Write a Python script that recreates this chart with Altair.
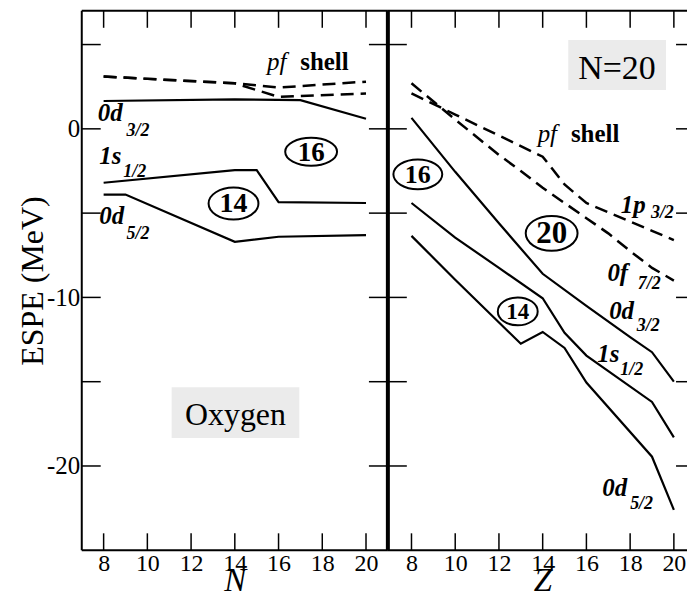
import altair as alt
import pandas as pd

SERIF = "Liberation Serif, Times New Roman, Times, serif"

# ---------------- Oxygen chain: ESPE (MeV) against neutron number N ----------------
N_0d32 = [8, 14, 17, 20]
E_O_0d32 = [1.65, 1.75, 1.7, 0.6]
N_1s12 = [8, 14, 15, 16, 20]
E_O_1s12 = [-3.2, -2.45, -2.45, -4.35, -4.4]
N_0d52 = [8, 9, 14, 16, 20]
E_O_0d52 = [-3.9, -3.9, -6.7, -6.4, -6.3]
N_pf = [8, 14, 16, 20]
E_O_1p32 = [3.1, 2.7, 2.45, 2.8]
E_O_0f72 = [3.1, 2.7, 1.9, 2.1]

# ---------------- N=20 isotones: ESPE (MeV) against proton number Z ----------------
Z_0d32 = [8, 10, 12, 14, 16, 18, 19, 20]
E_I_0d32 = [0.65, -2.55, -5.6, -8.6, -10.5, -12.35, -13.25, -15.0]
Z_1s12 = [8, 10, 12, 14, 15, 16, 19, 20]
E_I_1s12 = [-4.4, -6.45, -8.25, -10.05, -12.1, -13.45, -16.2, -18.3]
Z_0d52 = [8, 10, 13, 14, 15, 16, 19, 20]
E_I_0d52 = [-6.35, -8.95, -12.75, -12.05, -13.0, -15.05, -19.45, -22.6]
Z_1p32 = [8, 10, 12, 14, 15, 16, 17, 18, 19, 20]
E_I_1p32 = [2.1, 0.85, -0.4, -1.65, -3.3, -4.4, -4.95, -5.5, -6.05, -6.6]
Z_0f72 = [8, 10, 12, 13, 14, 15, 16, 17, 18, 19, 20]
E_I_0f72 = [2.7, 0.55, -1.55, -2.5, -3.5, -4.4, -5.3, -6.2, -7.25, -8.25, -9.0]

# axis ticks
X_TICKS = [8, 10, 12, 14, 16, 18, 20]
Y_TICKS = [-20, -15, -10, -5, 0, 5]
Y_LABELS = [-20, -10, 0]

# shell-gap numbers (ring text, x, energy)
RING_TEXT_O = ["16", "14"]
RING_X_O = [17.49, 13.94]
RING_E_O = [-1.36, -4.43]
RING_TEXT_I = ["16", "20", "14"]
RING_X_I = [8.29, 14.41, 12.86]
RING_E_I = [-2.70, -6.2, -10.83]
# ring outline width, height (px) and number font size
RING_STYLE_O = [(52, 28, 27), (50, 32, 28)]
RING_STYLE_I = [(49, 30, 26), (52, 35, 31), (40, 28, 23)]

# orbital names: main part and subscript, anchored in data coordinates
TAG_O = ["0d", "1s", "0d"]
TAG_O_X = [7.73, 7.8, 7.8]
TAG_O_E = [0.46, -2.07, -5.66]
SUB_O = ["3/2", "1/2", "5/2"]
SUB_O_X = [9.05, 8.9, 9.05]
SUB_O_E = [-0.40, -2.86, -6.55]

TAG_I = ["1p", "0f", "0d", "1s", "0d"]
TAG_I_X = [17.57, 16.96, 17.04, 16.5, 16.73]
TAG_I_E = [-4.97, -9.01, -11.28, -13.85, -21.78]
SUB_I = ["3/2", "7/2", "3/2", "1/2", "5/2"]
SUB_I_X = [18.95, 18.35, 18.3, 17.55, 18.0]
SUB_I_E = [-5.27, -9.51, -11.97, -14.6, -22.53]

PF_O = (15.47, 16.99, 3.51)
PF_I = (13.77, 15.29, -0.79)

# name boxes: (text, x-from, x-to, E-top, E-bottom, text x, text baseline E, font size)
BOX_O = ("Oxygen", 11.11, 16.95, -15.33, -18.34, 14.03, -17.59, 32)
BOX_I = ("N=20", 15.17, 19.64, 5.27, 2.31, 17.4, 2.96, 34)

# layout: both panels share the same pixels per unit on x
W_L, W_R, H = 307, 300, 541
PX_PER_UNIT = W_L / 14
Y_DOM = [-25, 7]
X_DOM_L = [7, 21]
X_DOM_R = [6.92, 6.92 + W_R / PX_PER_UNIT]


def series_frame(xname, series):
    rows = []
    for name, xs, es in series:
        for a, b in zip(xs, es):
            rows.append({xname: a, "E": b, "level": name})
    return pd.DataFrame(rows)


def ring_frame(xname, texts, xs, es, styles):
    rows = []
    for t, a, b, (w, h, fs) in zip(texts, xs, es, styles):
        r = h / w
        path = f"M-1,0A1,{r:.3f},0,1,1,1,0A1,{r:.3f},0,1,1,-1,0Z"
        rows.append({xname: a, "E": b, "t": t, "path": path, "sz": w * w, "fs": fs})
    return pd.DataFrame(rows)


def panel(xname, xdom, width, solid, dashed, rings, tags, subs, pf, box,
          title, title_x, rtick, left_axis, left_frame_w, right_frame):
    xs = alt.Scale(domain=xdom, nice=False, zero=False)
    ys = alt.Scale(domain=Y_DOM, nice=False, zero=False)
    xkw = dict(values=X_TICKS, grid=False, domain=False, ticks=False,
               labelFont=SERIF, labelFontSize=24, labelColor="black",
               labelPadding=1, labelFlush=False,
               title=title, titleFont=SERIF, titleFontSize=33,
               titleFontStyle="italic", titleFontWeight="normal",
               titleColor="black", titleBaseline="alphabetic", titleY=40)
    if title_x is not None:
        xkw["titleX"] = title_x
    xaxis = alt.Axis(**xkw)
    if left_axis:
        yaxis = alt.Axis(values=Y_LABELS, grid=False, domain=False, ticks=False,
                         labelExpr="'' + datum.value",
                         labelFont=SERIF, labelFontSize=25, labelColor="black",
                         labelPadding=2,
                         title="ESPE (MeV)", titleFont=SERIF, titleFontSize=32,
                         titleFontWeight="normal", titleColor="black",
                         titleBaseline="alphabetic", titlePadding=4)
    else:
        yaxis = None

    def X(f):
        return alt.X(f, type="quantitative", scale=xs, axis=xaxis)

    def Y(f):
        return alt.Y(f, type="quantitative", scale=ys, axis=yaxis)

    one = pd.DataFrame({"k": [0]})
    layers = []

    # name box
    bt, bx1, bx2, by1, by2, tx, ty, tfs = box
    bdf = pd.DataFrame({"x1": [bx1], "x2": [bx2], "y1": [by1], "y2": [by2],
                        "tx": [tx], "ty": [ty], "t": [bt]})
    layers.append(alt.Chart(bdf).mark_rect(color="#EBEBEB").encode(
        x=X("x1"), x2="x2", y=Y("y1"), y2="y2"))
    layers.append(alt.Chart(bdf).mark_text(
        font=SERIF, fontSize=tfs, fontWeight="normal", align="center",
        baseline="alphabetic", color="black").encode(
        x=X("tx"), y=Y("ty"), text="t:N"))

    # single-particle levels
    layers.append(alt.Chart(series_frame(xname, solid)).mark_line(
        color="black", strokeWidth=2.2).encode(
        x=X(xname), y=Y("E"), detail="level:N"))
    layers.append(alt.Chart(series_frame(xname, dashed)).mark_line(
        color="black", strokeWidth=2.5, strokeDash=[13, 7]).encode(
        x=X(xname), y=Y("E"), detail="level:N"))

    # shell-gap rings
    layers.append(alt.Chart(rings).mark_point(
        filled=False, color="black", strokeWidth=2, opacity=1).encode(
        x=X(xname), y=Y("E"),
        shape=alt.Shape("path:N", scale=None),
        size=alt.Size("sz:Q", scale=None)))
    layers.append(alt.Chart(rings).mark_text(
        font=SERIF, fontWeight="bold", align="center", baseline="middle",
        color="black", dy=1).encode(
        x=X(xname), y=Y("E"), text="t:N", size=alt.Size("fs:Q", scale=None)))

    # orbital labels
    tdf = pd.DataFrame({"x": tags[1], "E": tags[2], "t": tags[0]})
    sdf = pd.DataFrame({"x": subs[1], "E": subs[2], "t": subs[0]})
    layers.append(alt.Chart(tdf).mark_text(
        font=SERIF, fontSize=25, fontWeight="bold", fontStyle="italic",
        align="left", baseline="alphabetic", color="black").encode(
        x=X("x"), y=Y("E"), text="t:N"))
    layers.append(alt.Chart(sdf).mark_text(
        font=SERIF, fontSize=18, fontWeight="bold", fontStyle="italic",
        align="left", baseline="alphabetic", color="black").encode(
        x=X("x"), y=Y("E"), text="t:N"))
    pdf = pd.DataFrame({"x": [pf[0]], "x2": [pf[1]], "E": [pf[2]],
                        "a": ["pf"], "b": ["shell"]})
    layers.append(alt.Chart(pdf).mark_text(
        font=SERIF, fontSize=25, fontStyle="italic", align="left",
        baseline="alphabetic", color="black").encode(
        x=X("x"), y=Y("E"), text="a:N"))
    layers.append(alt.Chart(pdf).mark_text(
        font=SERIF, fontSize=25, fontWeight="bold", align="left",
        baseline="alphabetic", color="black").encode(
        x=X("x2"), y=Y("E"), text="b:N"))

    # inward ticks on all four sides
    xt = pd.DataFrame({"t": X_TICKS})
    yt = pd.DataFrame({"v": Y_TICKS})
    tk = dict(color="black", strokeWidth=1.5)
    layers.append(alt.Chart(xt).mark_rule(**tk).encode(
        x=X("t"), y=alt.value(H), y2=alt.value(H - 17)))
    layers.append(alt.Chart(xt).mark_rule(**tk).encode(
        x=X("t"), y=alt.value(0), y2=alt.value(17)))
    layers.append(alt.Chart(yt).mark_rule(**tk).encode(
        y=Y("v"), x=alt.value(0), x2=alt.value(19)))
    layers.append(alt.Chart(yt).mark_rule(**tk).encode(
        y=Y("v"), x=alt.value(width - rtick), x2=alt.value(width)))

    # frame
    fr = dict(color="black", strokeWidth=2)
    layers.append(alt.Chart(one).mark_rule(**fr).encode(
        x=alt.value(0), x2=alt.value(width), y=alt.value(0)))
    layers.append(alt.Chart(one).mark_rule(**fr).encode(
        x=alt.value(0), x2=alt.value(width), y=alt.value(H)))
    layers.append(alt.Chart(one).mark_rule(color="black", strokeWidth=left_frame_w).encode(
        x=alt.value(0), y=alt.value(0), y2=alt.value(H)))
    if right_frame:
        layers.append(alt.Chart(one).mark_rule(**fr).encode(
            x=alt.value(width), y=alt.value(0), y2=alt.value(H)))

    return alt.layer(*layers).properties(width=width, height=H)


oxygen = panel(
    "N", X_DOM_L, W_L,
    solid=[("0d3/2", N_0d32, E_O_0d32), ("1s1/2", N_1s12, E_O_1s12),
           ("0d5/2", N_0d52, E_O_0d52)],
    dashed=[("1p3/2", N_pf, E_O_1p32), ("0f7/2", N_pf, E_O_0f72)],
    rings=ring_frame("N", RING_TEXT_O, RING_X_O, RING_E_O, RING_STYLE_O),
    tags=(TAG_O, TAG_O_X, TAG_O_E), subs=(SUB_O, SUB_O_X, SUB_O_E),
    pf=PF_O, box=BOX_O, title="N", title_x=None, rtick=19,
    left_axis=True, left_frame_w=2, right_frame=True)

isotones = panel(
    "Z", X_DOM_R, W_R,
    solid=[("0d3/2", Z_0d32, E_I_0d32), ("1s1/2", Z_1s12, E_I_1s12),
           ("0d5/2", Z_0d52, E_I_0d52)],
    dashed=[("1p3/2", Z_1p32, E_I_1p32), ("0f7/2", Z_0f72, E_I_0f72)],
    rings=ring_frame("Z", RING_TEXT_I, RING_X_I, RING_E_I, RING_STYLE_I),
    tags=(TAG_I, TAG_I_X, TAG_I_E), subs=(SUB_I, SUB_I_X, SUB_I_E),
    pf=PF_I, box=BOX_I, title="Z", title_x=155, rtick=11,
    left_axis=False, left_frame_w=4, right_frame=False)

chart = alt.hconcat(oxygen, isotones, spacing=0, bounds="flush").resolve_scale(
    x="independent", y="independent"
).properties(
    padding={"left": 16, "top": 8, "right": 0, "bottom": 0},
    background="white",
).configure_view(stroke=None)

chart.save("out.html", embed_options={"renderer": "svg", "actions": False})
